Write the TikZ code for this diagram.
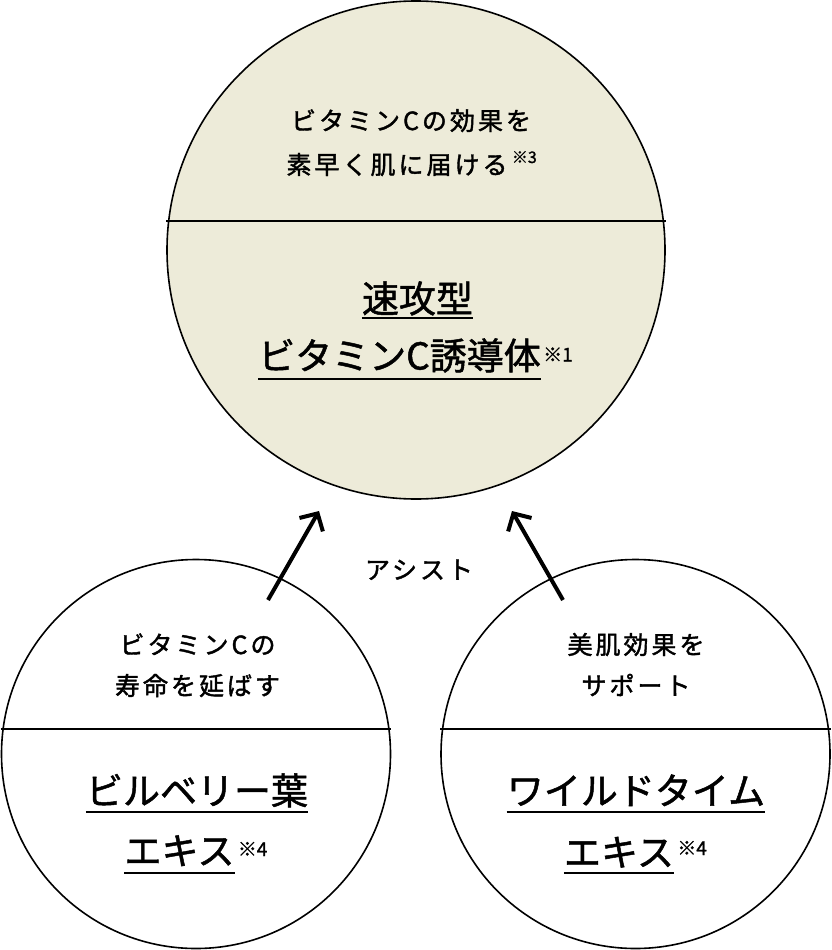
\documentclass[tikz,border=0pt]{standalone}
\usepackage{fontspec}
\newfontfamily\jp[FakeBold=1.3]{Noto Sans CJK JP}
\newfontfamily\jpsp[LetterSpace=12,FakeBold=1.6]{Noto Sans CJK JP}
\usetikzlibrary{arrows.meta}
\definecolor{vcbeige}{RGB}{237,235,217}
\begin{document}
\begin{tikzpicture}[x=1pt,y=-1pt,
  ring/.style={circle,draw,line width=1.6pt,inner sep=0pt},
  small/.style={font=\jpsp\fontsize{25}{25}\selectfont,inner sep=0pt,anchor=base},
  big/.style={font=\jp\fontsize{37}{37}\selectfont,inner sep=0pt,anchor=base},
  note/.style={font=\jp\fontsize{19}{19}\selectfont,inner sep=0pt,anchor=base west},
  uline/.style={line width=2pt},
  assist/.style={line width=4pt,-{Straight Barb[length=13pt,width=27pt]}}]
\useasboundingbox (0,0) rectangle (832,950);
\node[ring,fill=vcbeige,minimum size=498pt] (vc) at (416,250) {};
\node[ring,minimum size=389pt] (bil) at (196,754) {};
\node[ring,minimum size=389pt] (wt) at (635.5,754) {};
\draw[line width=2pt] (vc.west |- 0,221) -- (vc.east |- 0,221);
\draw[line width=2pt] (bil.west |- 0,729) -- (bil.east |- 0,729);
\draw[line width=2pt] (wt.west |- 0,729) -- (wt.east |- 0,729);
% top circle
\node[small] (vct1) at (411,130) {ビタミンCの効果を};
\node[small] (vct2) at (397,174) {素早く肌に届ける};
\node[note,font=\jp\fontsize{16}{16}\selectfont] (n3) at ([xshift=4pt,yshift=11pt]vct2.base east) {※3};
\node[big] (vc1) at (417.5,312.5) {速攻型};
\node[big] (vc2) at (399.5,369.5) {ビタミンC誘導体};
\node[note] (n1) at ([xshift=2pt,yshift=8pt]vc2.base east) {※1};
\draw[uline] (vc1.west |- 0,318.3) -- (vc1.east |- 0,318.3);
\draw[uline] (vc2.west |- 0,379.3) -- (vc2.east |- 0,379.3);
% bottom left
\node[small] (bilt1) at (197.5,654) {ビタミンCの};
\node[small] (bilt2) at (197.5,695) {寿命を延ばす};
\node[big] (bil1) at (197,804.5) {ビルベリー葉};
\node[big] (bil2) at (179.5,864.5) {エキス};
\node[note] (n4a) at ([xshift=3pt,yshift=8.5pt]bil2.base east) {※4};
\draw[uline] (bil1.west |- 0,811.7) -- (bil1.east |- 0,811.7);
\draw[uline] (bil2.west |- 0,873.3) -- (bil2.east |- 0,873.3);
% bottom right
\node[small] (wtt1) at (636,654) {美肌効果を};
\node[small] (wtt2) at (636,695) {サポート};
\node[big] (wt1) at (636,804.5) {ワイルドタイム};
\node[big] (wt2) at (619,866) {エキス};
\node[note] (n4b) at ([xshift=3pt,yshift=11pt]wt2.base east) {※4};
\draw[uline] (wt1.west |- 0,811.7) -- (wt1.east |- 0,811.7);
\draw[uline] (wt2.west |- 0,872.7) -- (wt2.east |- 0,872.7);
% arrows
\node[small] (as) at (419,579) {アシスト};
\coordinate (la0) at (268,600);
\coordinate (la1) at (319,511);
\coordinate (ra0) at (563,600);
\coordinate (ra1) at (512,511);
\draw[assist] (la0) -- (la1);
\draw[assist] (ra0) -- (ra1);
\end{tikzpicture}
\end{document}
